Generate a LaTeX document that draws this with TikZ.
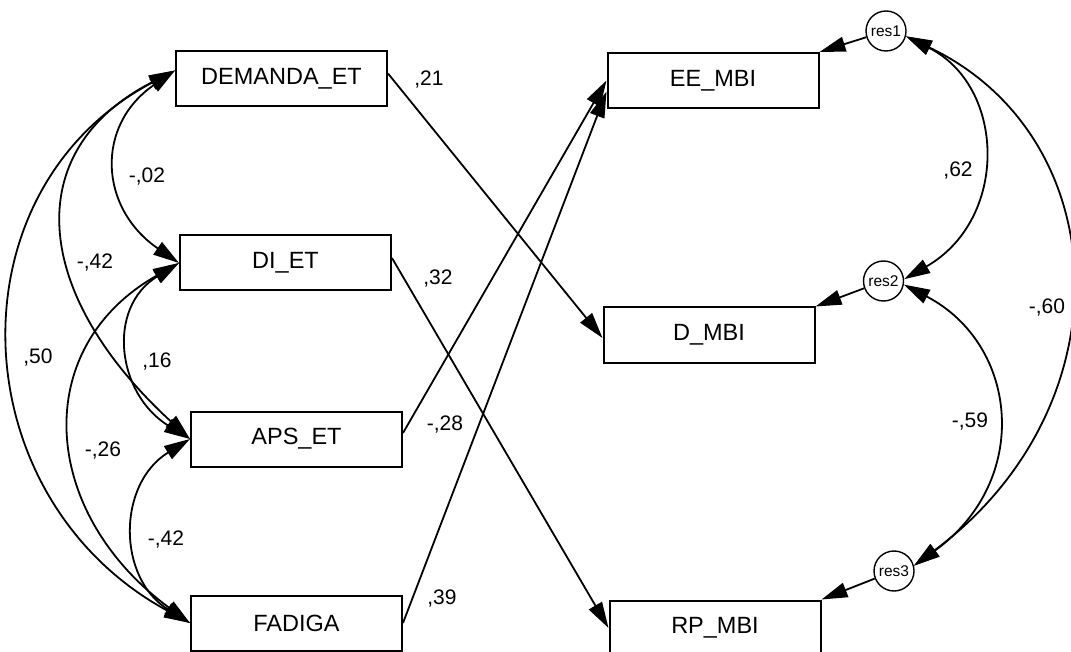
\documentclass[tikz,border=0pt]{standalone}
\usepackage{fontspec}
\setmainfont{Liberation Sans}
\usetikzlibrary{arrows.meta}

\tikzset{
  var/.style={draw, line width=2pt, minimum width=211pt, minimum height=55pt, inner sep=0pt, font=\fontsize{23.5}{26}\selectfont},
  resid/.style={draw, circle, line width=1.4pt, minimum size=40pt, inner sep=0pt, font=\fontsize{15.5}{17}\selectfont},
  coef/.style={inner sep=0pt, font=\fontsize{21}{24}\selectfont},
  link/.style={line width=1.8pt}
}

\begin{document}
\begin{tikzpicture}[x=1pt, y=-1pt, >={Triangle[length=26pt,width=15pt]}]
\path[use as bounding box, clip] (0,0) rectangle (1071,652);
% observed variables
\foreach \n/\x/\y/\t in {dem/281.5/78.5/DEMANDA\_ET, di/285.5/263/DI\_ET, aps/296.5/439/APS\_ET, fad/296.5/623/FADIGA, ee/713/80.5/EE\_MBI, dm/709/335/D\_MBI, rp/715/628/RP\_MBI}
  \node[var] (\n) at (\x,\y) {\t};
% residuals
\foreach \n/\x/\y in {res1/886/31, res2/883.5/281, res3/894/571}
  \node[resid] (\n) at (\x,\y) {\n};
% paths
\draw[link,->] ([yshift=5pt]dem.east) -- ([yshift=-3pt]dm.west);
\draw[link,->] ([yshift=5pt]di.east) -- (rp.west);
\draw[link,->] ([yshift=6pt]aps.east) -- (ee.west);
\draw[link,->] (fad.east) -- ([yshift=-11pt]ee.west);
\foreach \a/\b in {res1/ee, res2/dm, res3/rp}
  \draw[link,->] (\a) -- (\b.north east);
% covariances
\draw[link,<->] ([yshift=8pt]dem.west) .. controls +(-80,55) and +(-80,-55) .. (di.west);
\draw[link,<->] ([yshift=8pt]dem.west) .. controls +(-156,80) and +(-158,-145) .. (aps.west);
\draw[link,<->] ([yshift=8pt]dem.west) .. controls +(-227,120) and +(-230,-125) .. (fad.west);
\draw[link,<->] (di.west) .. controls +(-73,45) and +(-73,-45) .. (aps.west);
\draw[link,<->] (di.west) .. controls +(-150,85) and +(-150,-110) .. (fad.west);
\draw[link,<->] (aps.west) .. controls +(-73,45) and +(-73,-45) .. (fad.west);
\draw[link,<->] (res1.-15) .. controls +(100,50) and +(105,-60) .. (res2.5);
\draw[link,<->] (res2.-10) .. controls +(115,60) and +(118,-85) .. (res3.15);
\draw[link,<->] (res1.-15) .. controls +(210,100) and +(215,-160) .. (res3.15);
% estimates
\foreach \n/\x/\y/\t in {wdem/429/80/{,21}, wdi/438/279/{,32}, waps/445/425/{-,28}, wfad/442/599/{,39},
  cdemdi/147/177/{-,02}, cdemaps/95/263/{-,42}, cdemfad/38/358/{,50}, cdiaps/157/362/{,16},
  cdifad/103/451/{-,26}, capsfad/166/540/{-,42}, cres12/958/171/{,62}, cres13/1047/308/{-,60}, cres23/970/422/{-,59}}
  \node[coef] (\n) at (\x,\y) {\t};
\end{tikzpicture}
\end{document}
